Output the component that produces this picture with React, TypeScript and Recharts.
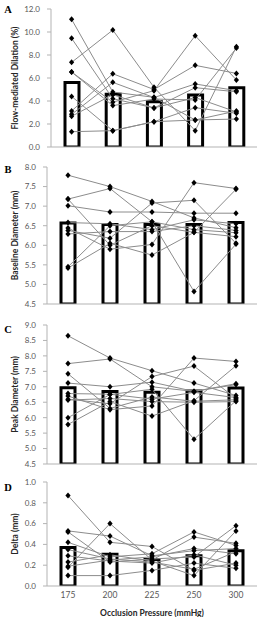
import React from 'react';
import { ComposedChart, Bar, Line, XAxis, YAxis, Label } from 'recharts';

const pressures = ['175', '200', '225', '250', '300'];

const fmdMean = [5.6, 4.58, 3.94, 4.52, 5.16];
const fmdSubjects = [
  [11.1, 4.78, 4.32, 2.35, 3.13],
  [9.45, 4.2, 3.4, 4.3, 3.05],
  [7.36, 10.17, 5.19, 1.42, 8.72],
  [6.52, 3.9, 4.9, 9.68, 5.83],
  [6.52, 3.6, 4.17, 4.09, 8.6],
  [4.4, 1.42, 2.2, 3.42, 2.93],
  [3.13, 6.37, 5.0, 7.1, 6.4],
  [2.84, 5.62, 4.3, 5.48, 4.9],
  [2.67, 4.55, 3.39, 5.16, 4.8],
  [1.33, 1.42, 2.2, 2.35, 2.43],
];

const baseMean = [6.57, 6.53, 6.53, 6.53, 6.58];
const baseSubjects = [
  [7.79, 7.5, 7.12, 6.7, 6.45],
  [7.18, 7.45, 6.6, 6.4, 6.32],
  [7.18, 6.0, 6.5, 6.33, 6.22],
  [7.01, 6.85, 6.85, 6.82, 6.82],
  [6.58, 6.55, 6.4, 6.65, 6.55],
  [6.44, 5.9, 6.02, 7.6, 7.45],
  [6.38, 6.18, 7.08, 7.15, 6.05],
  [6.29, 6.35, 6.35, 6.5, 6.38],
  [5.45, 6.5, 6.6, 4.82, 6.03],
  [5.42, 6.05, 5.75, 6.33, 7.43],
];

const peakMean = [6.97, 6.85, 6.82, 6.86, 6.96];
const peakSubjects = [
  [8.65, 7.93, 7.52, 7.12, 6.72],
  [7.75, 7.9, 7.0, 6.85, 7.07],
  [7.42, 6.3, 6.67, 6.53, 6.58],
  [7.12, 7.0, 7.15, 6.85, 7.1],
  [6.78, 6.76, 6.6, 6.82, 6.65],
  [6.7, 6.26, 6.38, 7.93, 7.82],
  [6.6, 6.45, 7.33, 7.67, 6.62],
  [6.57, 6.62, 6.52, 6.5, 6.52],
  [6.0, 6.75, 6.92, 5.3, 6.55],
  [5.78, 6.52, 6.05, 6.55, 7.68],
];

const deltaMean = [0.37, 0.305, 0.255, 0.29, 0.34];
const deltaSubjects = [
  [0.87, 0.42, 0.38, 0.15, 0.22],
  [0.53, 0.48, 0.29, 0.34, 0.36],
  [0.23, 0.3, 0.24, 0.1, 0.53],
  [0.42, 0.28, 0.31, 0.52, 0.39],
  [0.52, 0.23, 0.26, 0.28, 0.58],
  [0.1, 0.1, 0.15, 0.22, 0.17],
  [0.18, 0.6, 0.25, 0.47, 0.41],
  [0.19, 0.25, 0.28, 0.36, 0.31],
  [0.35, 0.26, 0.23, 0.16, 0.33],
  [0.29, 0.24, 0.22, 0.3, 0.2],
];

const fmdTicks = [0, 2, 4, 6, 8, 10, 12];
const baseTicks = [4.5, 5, 5.5, 6, 6.5, 7, 7.5, 8];
const peakTicks = [4.5, 5, 5.5, 6, 6.5, 7, 7.5, 8, 8.5, 9];
const deltaTicks = [0, 0.2, 0.4, 0.6, 0.8, 1.0];

const FONT = 'Lato, "Liberation Sans", sans-serif';

function buildRows(mean: number[], subjects: number[][]) {
  return pressures.map((p, i) => {
    const row: any = { p, mean: mean[i] };
    subjects.forEach((s, j) => {
      row['s' + j] = s[i];
    });
    return row;
  });
}

const Diamond = (props: any) => {
  const { cx, cy, index, dataKey } = props;
  if (cx == null || cy == null) return <g key={`${dataKey}-${index}`} />;
  return (
    <path
      key={`${dataKey}-${index}`}
      d={`M${cx},${cy - 3}L${cx + 2.6},${cy}L${cx},${cy + 3}L${cx - 2.6},${cy}Z`}
      fill="#000"
    />
  );
};

type PanelProps = {
  top: number;
  height: number;
  mTop: number;
  mBottom: number;
  yWidth: number;
  domain: [number, number];
  ticks: number[];
  mean: number[];
  subjects: number[][];
  title: string;
  showX?: boolean;
};

function Panel(p: PanelProps) {
  const data = buildRows(p.mean, p.subjects);
  const xH = p.showX ? 31 : 1;
  return (
    <div style={{ position: 'absolute', left: 0, top: p.top, width: 257, height: p.height }}>
      <ComposedChart
        width={257}
        height={p.height}
        data={data}
        margin={{ top: p.mTop, bottom: p.mBottom, left: 0, right: 0 }}
      >
        <XAxis
          dataKey="p"
          height={xH}
          axisLine={{ stroke: '#b3b3b3', strokeWidth: 1 }}
          tickLine={false}
          tick={p.showX ? { fontSize: 8.5, fill: '#595959', fontFamily: FONT } : false}
          tickMargin={6}
          tickSize={0}
          interval={0}
        >
          {p.showX ? (
            <Label
              content={(lp: any) => {
                const vb = lp.viewBox || { x: 47, y: 116, width: 210, height: 31 };
                return (
                  <text
                    x={vb.x + vb.width / 2}
                    y={vb.y + 27}
                    textAnchor="middle"
                    dominantBaseline="central"
                    fontFamily={FONT}
                    fontWeight="bold"
                    fontSize={8.5}
                    fill="#262626"
                  >
                    Occlusion Pressure (mmHg)
                  </text>
                );
              }}
            />
          ) : null}
        </XAxis>
        <YAxis
          type="number"
          domain={p.domain}
          ticks={p.ticks}
          width={p.yWidth}
          interval={0}
          allowDataOverflow
          axisLine={{ stroke: '#b3b3b3', strokeWidth: 1 }}
          tickLine={{ stroke: '#b3b3b3' }}
          tickSize={4}
          tickMargin={7}
          tickFormatter={(v: number) => v.toFixed(1)}
          tick={{ fontSize: 8, fill: '#595959', fontFamily: FONT }}
        >
          <Label
            content={(lp: any) => {
              const vb = lp.viewBox || { x: 0, y: p.mTop, width: p.yWidth, height: 100 };
              const cy = vb.y + vb.height / 2;
              return (
                <text
                  x={15}
                  y={cy}
                  transform={`rotate(-90, 15, ${cy})`}
                  textAnchor="middle"
                  dominantBaseline="central"
                  fontFamily={FONT}
                  fontWeight="bold"
                  fontSize={8.5}
                  fill="#262626"
                >
                  {p.title}
                </text>
              );
            }}
          />
        </YAxis>
        <Bar
          dataKey="mean"
          fill="#ffffff"
          stroke="#000000"
          strokeWidth={3}
          barSize={14}
          isAnimationActive={false}
        />
        {p.subjects.map((_, j) => (
          <Line
            key={'s' + j}
            dataKey={'s' + j}
            type="linear"
            stroke="#8c8c8c"
            strokeWidth={1}
            dot={Diamond}
            activeDot={false}
            isAnimationActive={false}
          />
        ))}
      </ComposedChart>
    </div>
  );
}

const letters = [
  { t: 'A', y: 9 },
  { t: 'B', y: 169 },
  { t: 'C', y: 329 },
  { t: 'D', y: 487 },
];

export default function App() {
  return (
    <div style={{ position: 'absolute', left: 0, top: 0, width: 257, height: 617, background: '#fff', overflow: 'hidden' }}>
      <Panel top={0} height={160} mTop={9} mBottom={12} yWidth={51} domain={[0, 12]} ticks={fmdTicks}
        mean={fmdMean} subjects={fmdSubjects} title="Flow-mediated Dilation (%)" />
      <Panel top={160} height={150} mTop={7} mBottom={5} yWidth={47} domain={[4.5, 8]} ticks={baseTicks}
        mean={baseMean} subjects={baseSubjects} title="Baseline Diameter (mm)" />
      <Panel top={310} height={160} mTop={15} mBottom={5} yWidth={47} domain={[4.5, 9]} ticks={peakTicks}
        mean={peakMean} subjects={peakSubjects} title="Peak Diameter (mm)" />
      <Panel top={470} height={147} mTop={12} mBottom={0} yWidth={47} domain={[0, 1]} ticks={deltaTicks}
        mean={deltaMean} subjects={deltaSubjects} title="Delta (mm)" showX />
      <svg width={257} height={617} style={{ position: 'absolute', left: 0, top: 0, pointerEvents: 'none' }}>
        {letters.map((l) => (
          <text key={l.t} x={8} y={l.y} textAnchor="middle" dominantBaseline="central"
            fontFamily='"Liberation Serif", "Times New Roman", serif' fontWeight="bold" fontSize={10.5} fill="#000">
            {l.t}
          </text>
        ))}
      </svg>
    </div>
  );
}
